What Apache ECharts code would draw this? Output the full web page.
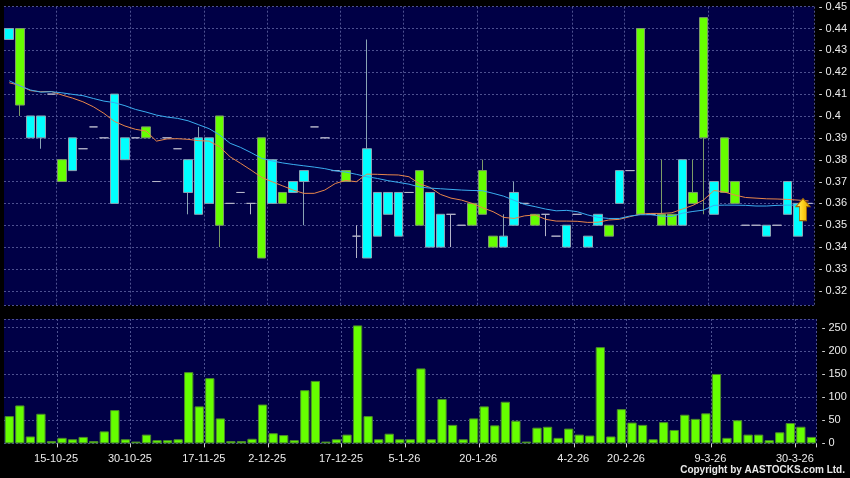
<!DOCTYPE html>
<html><head><meta charset="utf-8">
<script src="https://cdn.jsdelivr.net/npm/echarts@6/dist/echarts.min.js"></script>
<style>html,body{margin:0;padding:0;background:#000}#c{width:850px;height:478px}</style>
</head><body><div id="c"></div><script>
const dates = ['8-10-25','9-10-25','10-10-25','13-10-25','14-10-25','15-10-25','16-10-25','17-10-25','20-10-25','21-10-25',
'23-10-25','27-10-25','30-10-25','31-10-25','3-11-25','5-11-25','7-11-25','11-11-25','13-11-25','17-11-25',
'19-11-25','21-11-25','24-11-25','26-11-25','28-11-25','2-12-25','3-12-25','5-12-25','8-12-25','10-12-25',
'12-12-25','15-12-25','17-12-25','18-12-25','19-12-25','23-12-25','29-12-25','31-12-25','5-1-26','6-1-26',
'8-1-26','9-1-26','12-1-26','14-1-26','16-1-26','20-1-26','21-1-26','22-1-26','23-1-26','26-1-26',
'27-1-26','28-1-26','29-1-26','2-2-26','4-2-26','5-2-26','9-2-26','11-2-26','13-2-26','20-2-26',
'23-2-26','24-2-26','25-2-26','26-2-26','2-3-26','4-3-26','6-3-26','9-3-26','10-3-26','12-3-26',
'13-3-26','17-3-26','19-3-26','23-3-26','26-3-26','30-3-26','31-3-26'];
const tickDates = ['15-10-25','30-10-25','17-11-25','2-12-25','17-12-25','5-1-26','20-1-26','4-2-26','20-2-26','9-3-26','30-3-26'];
const opens = [0.435,0.44,0.39,0.39,0.41,0.38,0.375,0.385,0.395,0.39,
0.36,0.38,0.39,0.395,0.37,0.39,0.385,0.365,0.355,0.36,
0.40,0.36,0.365,0.36,0.39,0.36,0.365,0.365,0.37,0.395,
0.39,0.375,0.375,0.345,0.335,0.345,0.355,0.345,0.365,0.375,
0.34,0.34,0.355,0.35,0.36,0.375,0.345,0.34,0.35,0.36,
0.355,0.355,0.345,0.34,0.355,0.34,0.35,0.35,0.36,0.375,
0.44,0.355,0.355,0.355,0.35,0.365,0.445,0.355,0.39,0.37,
0.35,0.35,0.345,0.35,0.355,0.345,0.36];
const closes = [0.44,0.405,0.40,0.40,0.41,0.37,0.39,0.385,0.395,0.39,
0.41,0.39,0.39,0.39,0.37,0.39,0.385,0.38,0.39,0.39,
0.35,0.36,0.365,0.36,0.335,0.38,0.36,0.37,0.375,0.395,
0.39,0.375,0.37,0.345,0.385,0.365,0.365,0.365,0.365,0.35,
0.365,0.355,0.355,0.35,0.35,0.355,0.34,0.345,0.365,0.36,
0.35,0.355,0.345,0.35,0.355,0.345,0.355,0.345,0.375,0.375,
0.355,0.355,0.35,0.35,0.38,0.36,0.39,0.37,0.365,0.36,
0.35,0.35,0.35,0.35,0.37,0.36,0.36];
const lows = [0.435,0.40,0.39,0.385,0.41,0.37,0.375,0.385,0.395,0.39,
0.36,0.38,0.39,0.39,0.37,0.39,0.385,0.355,0.355,0.36,
0.34,0.36,0.365,0.355,0.335,0.36,0.36,0.365,0.35,0.395,
0.39,0.375,0.37,0.335,0.335,0.345,0.355,0.345,0.365,0.35,
0.34,0.34,0.34,0.35,0.35,0.355,0.34,0.34,0.35,0.36,
0.35,0.345,0.345,0.34,0.355,0.34,0.35,0.345,0.36,0.375,
0.355,0.355,0.35,0.35,0.35,0.36,0.355,0.355,0.365,0.36,
0.35,0.35,0.345,0.35,0.355,0.345,0.36];
const highs = [0.44,0.44,0.40,0.40,0.41,0.38,0.39,0.385,0.395,0.39,
0.41,0.39,0.39,0.395,0.37,0.39,0.385,0.38,0.395,0.39,
0.40,0.36,0.365,0.36,0.39,0.38,0.365,0.37,0.375,0.395,
0.39,0.375,0.375,0.35,0.435,0.365,0.365,0.365,0.365,0.375,
0.365,0.355,0.355,0.35,0.36,0.38,0.345,0.355,0.37,0.36,
0.355,0.355,0.345,0.35,0.355,0.345,0.355,0.35,0.375,0.375,
0.44,0.355,0.38,0.355,0.38,0.38,0.445,0.37,0.39,0.37,
0.35,0.35,0.35,0.35,0.37,0.36,0.36];
const volumes = [59,82,15,64,5,12,9,14,5,26,
72,9,4,19,7,7,9,154,80,141,
54,5,5,10,84,22,18,7,115,135,
4,9,19,255,59,9,21,9,9,162,
9,96,40,9,54,80,39,90,49,4,
34,36,12,32,19,17,208,15,74,45,
40,9,46,29,62,53,65,150,12,50,
19,19,7,24,44,36,14];
const maFast = [0.4152,0.4140,0.4116,0.4111,0.4112,0.4096,0.4082,0.4065,0.4042,0.4012,
0.3975,0.3954,0.3939,0.3931,0.3885,0.3895,0.3896,0.3893,0.3887,0.3885,
0.3859,0.3813,0.3783,0.3752,0.3719,0.3699,0.3680,0.3661,0.3646,0.3646,
0.3661,0.3691,0.3705,0.3699,0.3734,0.3733,0.3731,0.3730,0.3722,0.3690,
0.3673,0.3641,0.3624,0.3615,0.3600,0.3580,0.3562,0.3536,0.3531,0.3543,
0.3547,0.3527,0.3519,0.3519,0.3518,0.3513,0.3514,0.3524,0.3527,0.3539,
0.3551,0.3554,0.3554,0.3557,0.3574,0.3591,0.3615,0.3659,0.3652,0.3638,
0.3627,0.3624,0.3621,0.3620,0.3618,0.3615,0.3611];
const maSlow = [0.4161,0.4138,0.4119,0.4109,0.4111,0.4106,0.4099,0.4093,0.4080,0.4068,
0.4061,0.4047,0.4030,0.4018,0.4004,0.3995,0.3989,0.3978,0.3960,0.3942,
0.3913,0.3875,0.3856,0.3832,0.3806,0.3794,0.3785,0.3778,0.3772,0.3766,
0.3759,0.3749,0.3743,0.3733,0.3722,0.3714,0.3704,0.3696,0.3688,0.3675,
0.3670,0.3667,0.3664,0.3661,0.3659,0.3658,0.3646,0.3633,0.3614,0.3595,
0.3585,0.3574,0.3566,0.3568,0.3562,0.3547,0.3536,0.3531,0.3531,0.3542,
0.3548,0.3548,0.3542,0.3540,0.3555,0.3563,0.3569,0.3591,0.3592,0.3592,
0.3591,0.3588,0.3588,0.3591,0.3592,0.3592,0.3592];

const candleData = dates.map((d, i) => [opens[i], closes[i], lows[i], highs[i]]);
const showTick = (idx, val) => tickDates.indexOf(val !== undefined ? val : dates[idx]) >= 0;
const gl = {color: '#4d5190', type: [2, 2], width: 1};
const FONT = 'Liberation Sans';
const lbl = {color: '#ececec', fontFamily: FONT, fontSize: 11};
const last = dates.length - 1;

const chart = echarts.init(document.getElementById('c'), null, {renderer: 'canvas'});
chart.setOption({
  backgroundColor: '#000000',
  animation: false,
  grid: [
    {left: 4, right: 33.3, top: 6.7, height: 298.3, show: true, backgroundColor: '#000046', borderWidth: 0},
    {left: 4, right: 33.3, top: 319, height: 124.4, show: true, backgroundColor: '#000046', borderWidth: 0}
  ],
  xAxis: [
    {type: 'category', gridIndex: 0, data: dates, boundaryGap: true,
      axisLine: {show: false}, axisTick: {show: false}, axisLabel: {show: false},
      splitLine: {show: true, interval: showTick, lineStyle: gl}},
    {type: 'category', gridIndex: 1, data: dates, boundaryGap: true,
      axisLine: {show: false},
      axisTick: {show: true, interval: showTick, length: 4, lineStyle: {color: '#cfcfcf'}},
      axisLabel: Object.assign({interval: showTick, margin: 10, padding: [0, 12, 0, 0]}, lbl),
      splitLine: {show: true, interval: showTick, lineStyle: gl}}
  ],
  yAxis: [
    {type: 'value', gridIndex: 0, position: 'right', min: 0.3135, max: 0.45,
      splitNumber: 14, minInterval: 0.01, maxInterval: 0.01,
      axisLine: {show: false}, axisTick: {show: false},
      axisLabel: Object.assign({margin: 5, showMinLabel: false, formatter: v => '- ' + (+(+v).toFixed(2))}, lbl),
      splitLine: {show: true, lineStyle: gl}},
    {type: 'value', gridIndex: 1, position: 'right', min: 0, max: 268.8,
      splitNumber: 5, minInterval: 50, maxInterval: 50,
      axisLine: {show: false}, axisTick: {show: false},
      axisLabel: Object.assign({margin: 5, showMaxLabel: false, formatter: v => '- ' + Math.round(v)}, lbl),
      splitLine: {show: true, lineStyle: gl}}
  ],
  series: [
    {type: 'candlestick', xAxisIndex: 0, yAxisIndex: 0, data: candleData, barWidth: '86%',
      itemStyle: {color: '#00ffff', color0: '#66ff00', borderColor: '#8aa4b4', borderColor0: '#7d9c66',
        borderColorDoji: '#b4b4c8', borderWidth: 1},
      markPoint: {silent: true,
        symbol: 'path://M7,0L14,8L10.5,8L10.5,22L3.5,22L3.5,8L0,8Z',
        symbolSize: [14, 22], symbolOffset: [-5.6, 6.2],
        itemStyle: {color: {type: 'linear', x: 0, y: 0, x2: 1, y2: 0,
          colorStops: [{offset: 0, color: '#fff27a'}, {offset: 0.5, color: '#ffd21a'}, {offset: 1, color: '#d89a00'}]},
          borderColor: '#a86a00', borderWidth: 1},
        label: {show: false},
        data: [{coord: [dates[last], closes[last]]}]}},
    {type: 'line', xAxisIndex: 0, yAxisIndex: 0, data: maFast, symbol: 'none', silent: true,
      lineStyle: {color: '#e8864a', width: 1}},
    {type: 'line', xAxisIndex: 0, yAxisIndex: 0, data: maSlow, symbol: 'none', silent: true,
      lineStyle: {color: '#3aaef0', width: 1}},
    {type: 'bar', xAxisIndex: 1, yAxisIndex: 1, data: volumes, barWidth: '88%',
      itemStyle: {color: '#66ff00', borderColor: '#4c8a2a', borderWidth: 1}}
  ],
  graphic: [
    {type: 'text', right: 5, top: 465, silent: true,
      style: {text: 'Copyright by AASTOCKS.com Ltd.', fill: '#e8e8e8', font: 'bold 10px "Liberation Sans"'}}
  ]
});
</script></body></html>
